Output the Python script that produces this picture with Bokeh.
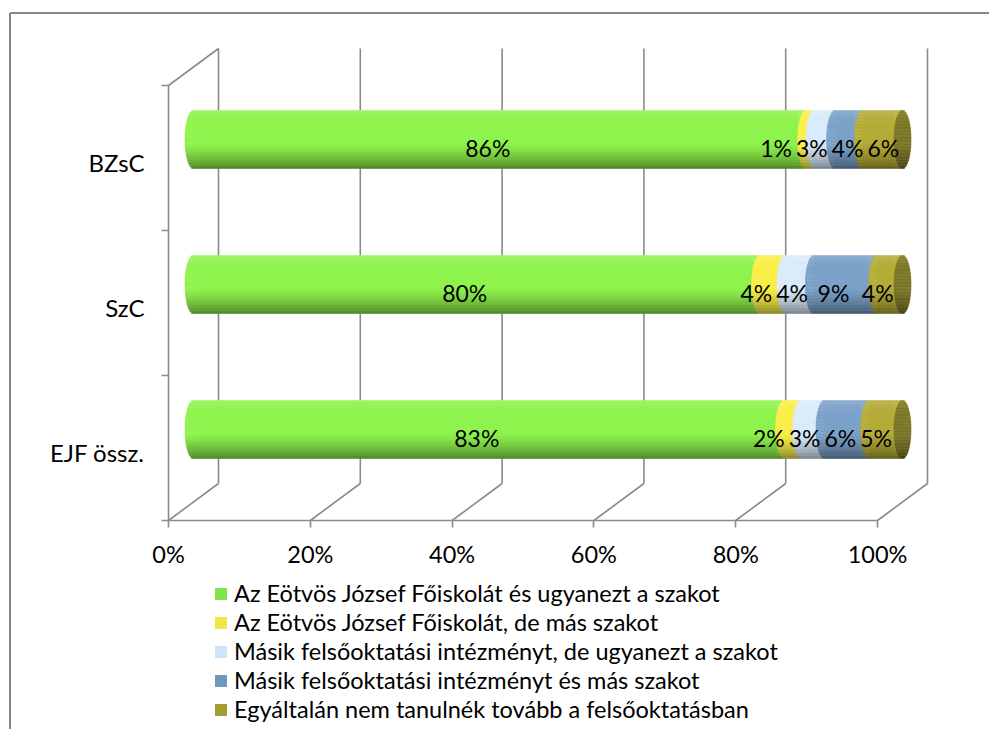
import math
from bokeh.plotting import figure
from bokeh.models import (ColumnDataSource, LinearAxis, FixedTicker, PrintfTickFormatter,
                          Legend, LegendItem, Range1d)
from bokeh.core.properties import value
from bokeh.embed import file_html
from bokeh.resources import INLINE

# ---------------- data ----------------
categories = ["EJF össz.", "SzC", "BZsC"]          # bottom -> top
series_names = [
    "Az Eötvös József Főiskolát és ugyanezt a szakot",
    "Az Eötvös József Főiskolát, de más szakot",
    "Másik felsőoktatási intézményt, de ugyanezt a szakot",
    "Másik felsőoktatási intézményt és más szakot",
    "Egyáltalán nem tanulnék tovább a felsőoktatásban",
]
same_school_same_major = [83.3, 79.9, 86.4]
same_school_other_major = [2.4, 3.6, 1.2]
other_school_same_major = [3.3, 4.0, 2.9]
other_school_other_major = [6.3, 8.9, 3.9]
no_further_study = [4.7, 3.6, 5.6]
series_values = [same_school_same_major, same_school_other_major, other_school_same_major,
                 other_school_other_major, no_further_study]
x_ticks = [0, 20, 40, 60, 80, 100]

legend_colors = ["#80E54B", "#EFE647", "#CCE5FB", "#7097BD", "#A39E33"]
bar_colors = ["#8FF44D", "#FAEF46", "#DAEBFB", "#7CA2C9", "#B5AD38"]

# ---------------- geometry / style ----------------
W, H = 989, 729
PXP = 7.09          # px per percent
PYC = 145.0         # px per category band
ORIGIN_X = 168      # canvas px of 0 %
ORIGIN_Y = 520      # canvas px (from top) of the floor
DX = 50 / PXP       # depth offset (x) in data units
DY = 37 / PYC       # depth offset (y) in data units
BAR_R = 29 / PYC    # cylinder radius (vertical)
CAP_HW = 8.5 / PXP  # half width of the end ellipse
N_STRIPS = 40
FONT = "Lato"
GRID = "#8a8a8a"

n_cat = len(categories)

x_range = Range1d(-ORIGIN_X / PXP, (W - ORIGIN_X) / PXP)
y_range = Range1d(-(H - ORIGIN_Y) / PYC, ORIGIN_Y / PYC)
p = figure(width=W, height=H, output_backend="svg", toolbar_location=None,
           x_axis_type=None, y_axis_type=None, x_range=x_range, y_range=y_range,
           min_border=0, min_border_left=0, min_border_right=0,
           min_border_top=0, min_border_bottom=0)
p.outline_line_color = None
p.background_fill_color = "white"
p.border_fill_color = "white"

# outer chart border (left & top edges visible, the rest runs off the picture)
bx = x_range.start + 9.5 / PXP
by = y_range.end - 12.5 / PYC
p.segment(x0=[bx, bx], y0=[y_range.start - 1, by], x1=[bx, x_range.end + 5], y1=[by, by],
          line_color="#878787", line_width=2)

# ---------------- walls ----------------
x0s, y0s, x1s, y1s = [], [], [], []
for t in x_ticks:
    x0s.append(t + DX); y0s.append(DY); x1s.append(t + DX); y1s.append(n_cat + DY)
    x0s.append(t); y0s.append(0); x1s.append(t + DX); y1s.append(DY)
x0s.append(0); y0s.append(n_cat); x1s.append(DX); y1s.append(n_cat + DY)
p.segment(x0=x0s, y0=y0s, x1=x1s, y1=y1s, line_color=GRID, line_width=1.6)


# ---------------- cylinders ----------------
def shade(hexc, f):
    r, g, b = int(hexc[1:3], 16), int(hexc[3:5], 16), int(hexc[5:7], 16)
    if f >= 1:
        a = min(1.0, f - 1)
        r, g, b = r + (255 - r) * a, g + (255 - g) * a, b + (255 - b) * a
    else:
        r, g, b = r * f, g * f, b * f
    return "#%02x%02x%02x" % (int(r), int(g), int(b))


def light(t):
    if t >= 0:
        return 1.0 + 0.14 * t ** 4
    return 1.0 - 0.45 * (max(0.0, -t - 0.1) / 0.9) ** 1.4


core = {si: dict(left=[], right=[], bottom=[], top=[]) for si in range(len(series_values))}
qd = dict(left=[], right=[], bottom=[], top=[], color=[])
lab = dict(x=[], y=[], text=[])
for ci in range(n_cat):
    vals = [s[ci] for s in series_values]
    yc = ci + 0.5 + 0.5 * DY
    ox = 0.5 * DX
    start = 0.0
    ends = []
    for si, v in enumerate(vals):
        end = start + v
        ends.append((start, end))
        # hidden core rectangle (used for legend swatch)
        core[si]["left"].append(ox + start)
        core[si]["right"].append(ox + max(start, end - CAP_HW))
        core[si]["bottom"].append(yc - 0.9 * BAR_R)
        core[si]["top"].append(yc + 0.9 * BAR_R)
        for k in range(N_STRIPS):
            t0 = -1 + 2 * k / N_STRIPS
            t1 = t0 + 2 / N_STRIPS
            tm = 0.5 * (t0 + t1)
            sx = CAP_HW * math.sqrt(max(0.0, 1 - tm * tm))
            qd["left"].append(ox + start - sx)
            qd["right"].append(ox + end - sx)
            qd["bottom"].append(yc + t0 * BAR_R)
            qd["top"].append(yc + t1 * BAR_R)
            qd["color"].append(shade(bar_colors[si], light(tm)))
        start = end
    # end cap
    for k in range(N_STRIPS):
        t0 = -1 + 2 * k / N_STRIPS
        t1 = t0 + 2 / N_STRIPS
        tm = 0.5 * (t0 + t1)
        sx = CAP_HW * math.sqrt(max(0.0, 1 - tm * tm))
        qd["left"].append(ox + start - sx)
        qd["right"].append(ox + start + sx)
        qd["bottom"].append(yc + t0 * BAR_R)
        qd["top"].append(yc + t1 * BAR_R)
        qd["color"].append(shade(bar_colors[-1], 0.68 * light(tm)))

    # data labels, placed nearer the front, spread to avoid overlap
    lx = 0.26 * DX
    ly = ci + 0.5 + 0.26 * DY
    centers = [0.5 * (a + b) + lx for a, b in ends]
    texts = ["%d%%" % round(v) for v in vals]
    widths = [(0.58 * 23 * (len(tx) - 1) + 0.8 * 23 + 4) / PXP for tx in texts]
    for _ in range(80):
        for i in range(len(centers) - 1):
            need = 0.5 * (widths[i] + widths[i + 1])
            gap = centers[i + 1] - centers[i]
            if gap < need:
                d = 0.5 * (need - gap)
                centers[i] -= d
                centers[i + 1] += d
    for cx, tx in zip(centers, texts):
        lab["x"].append(cx)
        lab["y"].append(ly)
        lab["text"].append(tx)

legend_renderers = []
for si, col in enumerate(legend_colors):
    r = p.quad(left="left", right="right", bottom="bottom", top="top",
               source=ColumnDataSource(core[si]), fill_color=col, line_color=None)
    legend_renderers.append(r)

p.quad(left="left", right="right", bottom="bottom", top="top", source=ColumnDataSource(qd),
       fill_color="color", line_color="color", line_width=0.6)

p.text(x="x", y="y", text="text", source=ColumnDataSource(lab), text_align="center",
       text_baseline="middle", text_font=value(FONT), text_font_size="23px", text_color="black")

# ---------------- axes ----------------
xaxis = LinearAxis(fixed_location=0, bounds=(0, 100), ticker=FixedTicker(ticks=x_ticks),
                   formatter=PrintfTickFormatter(format="%d%%"))
xaxis.axis_line_color = GRID
xaxis.axis_line_width = 1.6
xaxis.major_tick_line_color = GRID
xaxis.major_tick_line_width = 1.6
xaxis.major_tick_in = 0
xaxis.major_tick_out = 7
xaxis.minor_tick_line_color = None
xaxis.major_label_text_font = FONT
xaxis.major_label_text_font_size = "23.5px"
xaxis.major_label_text_color = "black"
xaxis.major_label_standoff = 12
p.add_layout(xaxis, "below")

label_ticks = [i + 0.5 - 4 / PYC for i in range(n_cat)]
yaxis = LinearAxis(fixed_location=0, bounds=(0, n_cat),
                   ticker=FixedTicker(ticks=label_ticks, minor_ticks=list(range(n_cat + 1))))
yaxis.major_label_overrides = {t: c for t, c in zip(label_ticks, categories)}
yaxis.axis_line_color = GRID
yaxis.axis_line_width = 1.6
yaxis.major_tick_line_color = None
yaxis.major_tick_in = 0
yaxis.major_tick_out = 0
yaxis.minor_tick_line_color = GRID
yaxis.minor_tick_line_width = 1.6
yaxis.minor_tick_in = 0
yaxis.minor_tick_out = 7
yaxis.major_label_text_font = FONT
yaxis.major_label_text_font_size = "24px"
yaxis.major_label_text_color = "black"
yaxis.major_label_standoff = 17
p.add_layout(yaxis, "left")

# ---------------- legend ----------------
items = [LegendItem(label=name, renderers=[r]) for name, r in zip(series_names, legend_renderers)]
legend = Legend(items=items, location=(213, 6), orientation="vertical")
legend.glyph_width = 15
legend.glyph_height = 15
legend.label_standoff = 6
legend.label_height = 25
legend.spacing = 1
legend.padding = 0
legend.margin = 0
legend.border_line_color = None
legend.background_fill_alpha = 0
legend.label_text_font = FONT
legend.label_text_font_size = "23.5px"
legend.label_text_color = "black"
p.add_layout(legend, "center")

open("out.html", "w").write(file_html(p, INLINE))
